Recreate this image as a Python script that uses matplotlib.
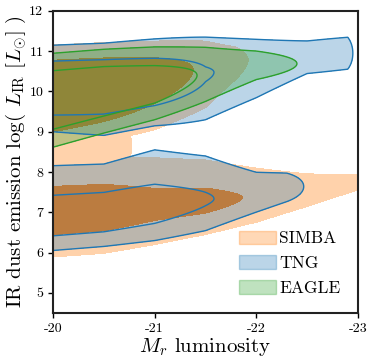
import matplotlib
matplotlib.use('Agg')
import matplotlib.pyplot as plt
import matplotlib.patches as mpatches
import numpy as np

plt.rcParams['font.family'] = 'serif'
plt.rcParams['font.serif'] = ['cmr10', 'DejaVu Serif']
plt.rcParams['mathtext.fontset'] = 'cm'
plt.rcParams['axes.unicode_minus'] = False

# ridge description of each population:
# M_r node, centre of log L_IR, spread below / above the centre, peak density
simba_sf_mr = [-20.0, -20.5, -21.0, -21.5, -21.8, -22.0]
simba_sf_mid = [9.95, 10.12, 10.4, 10.6, 10.75, 10.8]
simba_sf_lo = [0.77, 0.78, 0.89, 0.83, 0.5, 0.3]
simba_sf_hi = [0.67, 0.64, 0.56, 0.54, 0.39, 0.3]
simba_sf_peak = [1.5, 1.3, 0.95, 0.62, 0.45, 0.2]

# green valley bridge between the two SIMBA sequences
simba_gv_mr = [-20.0, -20.5, -20.75, -20.85]
simba_gv_mid = [8.6, 8.62, 8.65, 8.65]
simba_gv_lo = [0.38, 0.4, 0.4, 0.4]
simba_gv_hi = [0.38, 0.4, 0.4, 0.4]
simba_gv_peak = [0.45, 0.43, 0.4, 0.0]

simba_q_mr = [-20.0, -20.5, -21.0, -21.5, -22.0, -22.5, -23.0, -23.3]
simba_q_mid = [6.95, 7.05, 7.15, 7.25, 7.4, 7.55, 7.75, 7.85]
simba_q_lo = [0.715, 0.72, 0.68, 0.58, 0.51, 0.4, 0.26, 0.26]
simba_q_hi = [0.98, 0.91, 0.86, 0.76, 0.55, 0.4, 0.26, 0.26]
simba_q_peak = [0.9, 0.9, 0.8, 0.78, 0.67, 0.5, 0.4, 0.4]

tng_sf_mr = [-20.0, -20.5, -21.0, -21.5, -22.0, -22.5, -22.9, -23.05]
tng_sf_mid = [10.1, 10.2, 10.25, 10.45, 10.6, 10.85, 10.95, 10.95]
tng_sf_lo = [0.66, 0.8, 0.71, 0.87, 0.64, 0.4, 0.44, 0.44]
tng_sf_hi = [0.63, 0.62, 0.68, 0.68, 0.59, 0.4, 0.44, 0.44]
tng_sf_peak = [1.2, 1.1, 1.0, 0.72, 0.6, 0.5, 0.45, 0.0]

tng_q_mr = [-20.0, -20.5, -21.0, -21.5, -22.0, -22.3, -22.55]
tng_q_mid = [6.75, 6.85, 7.05, 7.3, 7.5, 7.62, 7.65]
tng_q_lo = [0.47, 0.47, 0.52, 0.57, 0.42, 0.35, 0.35]
tng_q_hi = [0.95, 0.91, 1.04, 0.83, 0.42, 0.35, 0.35]
tng_q_peak = [0.9, 0.9, 0.85, 0.72, 0.6, 0.5, 0.2]

eagle_sf_mr = [-20.0, -20.5, -21.0, -21.5, -22.0, -22.5]
eagle_sf_mid = [9.8, 10.0, 10.15, 10.45, 10.65, 10.7]
eagle_sf_lo = [0.71, 0.64, 0.56, 0.56, 0.35, 0.3]
eagle_sf_hi = [0.69, 0.65, 0.63, 0.52, 0.35, 0.3]
eagle_sf_peak = [1.2, 1.1, 0.95, 0.65, 0.5, 0.25]

levels = [0.3, 0.7]
names = ['SIMBA', 'TNG', 'EAGLE']
xticks = [-20, -21, -22, -23]
xtick_labels = ['-20', '-21', '-22', '-23']
yticks = [5, 6, 7, 8, 9, 10, 11, 12]

gx = np.linspace(-19.9, -23.1, 400)
gy = np.linspace(4.5, 12.0, 400)
X, Y = np.meshgrid(gx, gy)


def ridge(mr, mid, lo, hi, peak):
    xp = -np.array(mr)
    c = np.interp(-X, xp, mid)
    s = np.where(Y < c, np.interp(-X, xp, lo), np.interp(-X, xp, hi))
    a = np.interp(-X, xp, peak)
    return a * np.exp(-0.5 * ((Y - c) / s) ** 2)


z_simba = np.maximum.reduce([
    ridge(simba_sf_mr, simba_sf_mid, simba_sf_lo, simba_sf_hi, simba_sf_peak),
    ridge(simba_gv_mr, simba_gv_mid, simba_gv_lo, simba_gv_hi, simba_gv_peak),
    ridge(simba_q_mr, simba_q_mid, simba_q_lo, simba_q_hi, simba_q_peak)])
z_tng = np.maximum(ridge(tng_sf_mr, tng_sf_mid, tng_sf_lo, tng_sf_hi, tng_sf_peak),
                   ridge(tng_q_mr, tng_q_mid, tng_q_lo, tng_q_hi, tng_q_peak))
z_eagle = ridge(eagle_sf_mr, eagle_sf_mid, eagle_sf_lo, eagle_sf_hi, eagle_sf_peak)

fig = plt.figure(figsize=(3.74, 3.64), dpi=100)
ax = fig.add_axes([0.142, 0.140, 0.815, 0.830])

ax.contourf(X, Y, z_simba, levels=[levels[0], levels[1], 100], colors=['#ffd2ab', 'tab:orange'])
ax.contourf(X, Y, z_tng, levels=[levels[0], 100], colors='tab:blue', alpha=0.3)
ax.contour(X, Y, z_tng, levels=levels, colors='tab:blue', linewidths=1.0)
ax.contourf(X, Y, z_eagle, levels=[levels[0], 100], colors='tab:green', alpha=0.3)
ax.contour(X, Y, z_eagle, levels=levels, colors='tab:green', linewidths=1.0)

ax.set_xlim(-20, -23)
ax.set_ylim(4.5, 12)
ax.set_xticks(xticks)
ax.set_xticklabels(xtick_labels)
ax.set_yticks(yticks)
ax.tick_params(labelsize=10, length=3.5, width=1.0)
for sp in ax.spines.values():
    sp.set_linewidth(1.5)
    sp.set_color('#222222')

ax.set_xlabel(r'$M_r$ luminosity', fontsize=15, labelpad=1)
ax.set_ylabel(r'IR dust emission log( $L_{\rm IR}$ [$L_{\odot}$] )', fontsize=15, labelpad=1)

handles = [mpatches.Patch(color=c, alpha=0.3, label=n)
           for c, n in zip(['tab:orange', 'tab:blue', 'tab:green'], names)]
ax.legend(handles=handles, loc='lower right', frameon=False, fontsize=12.5,
          handlelength=2.1, handleheight=0.85, handletextpad=0.2, labelspacing=0.5,
          borderaxespad=0.6)

fig.savefig('out.png', dpi=100)
